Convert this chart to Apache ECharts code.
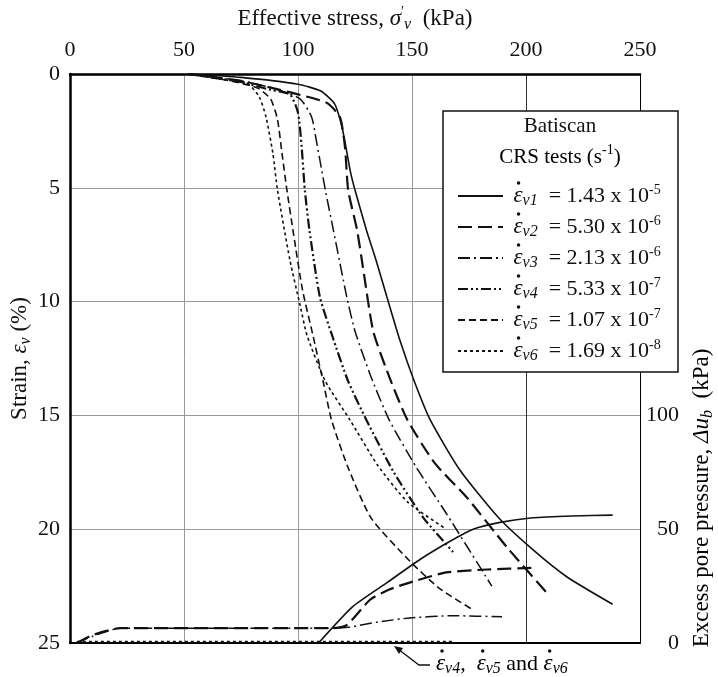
<!DOCTYPE html>
<html>
<head>
<meta charset="utf-8">
<script src="https://cdn.jsdelivr.net/npm/echarts@6/dist/echarts.min.js"></script>
<style>
  html, body { margin: 0; padding: 0; background: #fff; }
  #chart { width: 718px; height: 677px; }
</style>
</head>
<body>
<div id="chart"></div>
<script>
// strain curves: [effective stress (kPa), strain (%)]
const strainV1 = [[52,0],[75,0.15],[100,0.45],[110,0.75],[116,1.3],[119,2.2],[121,3.2],[123,4.3],[125,5.1],[130,6.85],[134.6,8.3],[139,9.8],[144.7,11.7],[151,13.5],[158,15.2],[171,17.4],[188,19.5],[203,20.9],[218,22.1],[238,23.3]]
const strainV2 = [[52,0],[75,0.3],[88,0.6],[101,0.92],[112.7,1.27],[118.4,1.9],[120.6,3.2],[122,5.1],[125.9,6.85],[128.5,8.5],[133,11.3],[140,13.3],[148,15.2],[160,17.1],[174,18.6],[191.7,20.8],[210,22.9]]
const strainV3 = [[52,0],[75,0.3],[90,0.65],[101,1.1],[106,1.9],[108,2.9],[110,4],[112,5.1],[115.5,6.85],[121.4,9.8],[125,11.3],[132,13.3],[140,15.2],[152,17.3],[165,19.3],[185,22.5]]
const strainV4 = [[52,0],[75,0.35],[88,0.7],[96.5,0.9],[100,1.7],[101.6,3.2],[103,5.1],[105,6.85],[109.6,9.8],[115,11.5],[122,13.5],[130,15.2],[142,17.5],[155,19.5],[168,21]]
const strainV5 = [[52,0],[70,0.3],[82,0.6],[88,1.1],[91,2],[93,3.5],[95,5],[98,7],[102,9.5],[106.6,11.5],[111,13.5],[114.7,15.2],[122,17.3],[132,19.5],[149,21.4],[162,22.6],[176,23.5]]
const strainV6 = [[52,0],[68,0.25],[77.6,0.4],[83,1],[86,1.9],[89,3.5],[91,5.1],[96.5,8.2],[101,10.2],[104,11.5],[112,13.5],[122.8,15.2],[135,17.2],[148,18.8],[165,20]]

// excess pore pressure curves: [effective stress (kPa), du (kPa)]
const poreV1 = [[109,0],[124,16],[139,26.5],[153.5,36.7],[166.7,44.7],[176.8,50],[188.6,53],[203,55],[220,55.8],[238,56.2]]
const poreV2 = [[3,0],[10,3.5],[22,6.5],[115,6.5],[121.5,8],[131.6,19],[140,23.5],[150.4,27],[165,31],[183,32.3],[202.6,33]]
const poreV3 = [[3,0],[10,3],[22,6.5],[115,6.5],[122.8,7],[135,9.2],[149,11],[168,12],[189.5,11.5]]
const poreV456 = [[3,0.6],[168,0.6]]

const rateNames = ['v1', 'v2', 'v3', 'v4', 'v5', 'v6']
const rateValues = ['1.43', '5.30', '2.13', '5.33', '1.07', '1.69']
const rateExps = ['-5', '-6', '-6', '-7', '-7', '-8']
const poreLabels = [0, 50, 100]

const FONT = "'Liberation Serif', 'DejaVu Serif', serif"

const rich = {
  n: { fontFamily: FONT, fontSize: 22, lineHeight: 26, color: '#111' },
  t: { fontFamily: FONT, fontSize: 23, lineHeight: 28, color: '#111' },
  e: { fontFamily: FONT, fontSize: 23, fontStyle: 'italic', lineHeight: 26, color: '#111' },
  s: { fontFamily: FONT, fontSize: 16, fontStyle: 'italic', verticalAlign: 'bottom', color: '#111' },
  p: { fontFamily: FONT, fontSize: 14, verticalAlign: 'top', color: '#111' },
}

const lineStyles = [
  { width: 1.6, type: 'solid' },
  { width: 2.2, type: [14, 6] },
  { width: 1.5, type: [12, 4, 2, 4] },
  { width: 2.2, type: [10, 3, 2, 3, 2, 3] },
  { width: 1.6, type: [7, 4] },
  { width: 1.6, type: [3, 3] },
]

const strainData = [strainV1, strainV2, strainV3, strainV4, strainV5, strainV6]

const series = strainData.map((data, i) => ({
  name: rateNames[i],
  type: 'line',
  xAxisIndex: 0,
  yAxisIndex: 0,
  data,
  smooth: 0.2,
  symbol: 'none',
  itemStyle: { color: '#111' },
  lineStyle: { color: '#111', ...lineStyles[i] },
}))

const poreData = [poreV1, poreV2, poreV3]
poreData.forEach((data, i) => {
  series.push({
    name: 'pore ' + rateNames[i],
    type: 'line',
    xAxisIndex: 0,
    yAxisIndex: 1,
    data,
    smooth: 0.2,
    symbol: 'none',
    lineStyle: { color: '#111', ...lineStyles[i] },
  })
})
series.push({
  name: 'pore v4-v6',
  type: 'line',
  xAxisIndex: 0,
  yAxisIndex: 1,
  data: poreV456,
  symbol: 'none',
  lineStyle: { color: '#111', width: 2, type: [3, 3] },
})

// dots over the strain-rate epsilons (measured from the text)
const ctx = document.createElement('canvas').getContext('2d')
function textWidth(str, size, italic) {
  ctx.font = (italic ? 'italic ' : '') + size + 'px ' + FONT
  return ctx.measureText(str).width
}
const epsW = textWidth('ε', 23, true)
const dotMarks = []
function addDot(x, y) {
  dotMarks.push({ type: 'circle', z: 30, shape: { cx: x, cy: y, r: 1.8 }, style: { fill: '#111' } })
}
const legendLeft = 452
const legendTop = 178
const legendTextX = legendLeft + 5 + 45 + 5 + textWidth(' ', 22, false)
rateNames.forEach((_, i) => addDot(legendTextX + epsW / 2 + 1.5, legendTop + 18 + 31 * i - 13))

const noteX = 436
const noteY = 664
let cursor = noteX
const notePieces = [['ε', 23, true], ['v4', 16, true], [',  ', 22, false], ['ε', 23, true], ['v5', 16, true], [' and ', 22, false], ['ε', 23, true], ['v6', 16, true]]
notePieces.forEach(([str, size, italic]) => {
  if (str === 'ε') addDot(cursor + epsW / 2 + 1.5, noteY - 13)
  cursor += textWidth(str, size, italic)
})

const chart = echarts.init(document.getElementById('chart'))

chart.setOption({
  animation: false,
  backgroundColor: '#fff',
  grid: { left: 70, right: 78, top: 74, bottom: 34, show: false, containLabel: false, outerBoundsMode: 'none' },
  xAxis: [
    {
      type: 'value',
      position: 'top',
      min: 0,
      max: 250,
      interval: 50,
      axisLine: { onZero: false, lineStyle: { color: '#000', width: 2.5 } },
      axisTick: { show: false },
      axisLabel: { fontFamily: FONT, fontSize: 22, color: '#111', margin: 13 },
      splitLine: { lineStyle: { color: ['#999', '#999', '#999', '#999', '#333', '#999'], width: 1 } },
      name: '{t|Effective stress, }{e|σ}{p|′}{s|v}{t|  (kPa)}',
      nameLocation: 'middle',
      nameGap: 41,
      nameMoveOverlap: false,
      nameTextStyle: { rich },
    },
    {
      type: 'value',
      position: 'bottom',
      min: 0,
      max: 250,
      axisLine: { onZero: false, lineStyle: { color: '#000', width: 2 } },
      axisTick: { show: false },
      axisLabel: { show: false },
      splitLine: { show: false },
    },
  ],
  yAxis: [
    {
      type: 'value',
      position: 'left',
      inverse: true,
      min: 0,
      max: 25,
      interval: 5,
      axisLine: { onZero: false, lineStyle: { color: '#000', width: 2.5 } },
      axisTick: { show: false },
      axisLabel: { fontFamily: FONT, fontSize: 22, color: '#111', margin: 10 },
      splitLine: { lineStyle: { color: '#999', width: 1 } },
      name: '{t|Strain, }{e|ε}{s|v}{t| (%)}',
      nameLocation: 'middle',
      nameGap: 36,
      nameRotate: 90,
      nameMoveOverlap: false,
      nameTextStyle: { rich },
    },
    {
      type: 'value',
      position: 'right',
      min: 0,
      max: 250,
      interval: 50,
      axisLine: { onZero: false, lineStyle: { color: '#000', width: 1 } },
      axisTick: { show: false },
      axisLabel: {
        fontFamily: FONT,
        fontSize: 22,
        color: '#111',
        margin: 39,
        align: 'right',
        showMaxLabel: false,
        formatter: (v) => (poreLabels.includes(v) ? String(v) : ''),
      },
      splitLine: { show: false },
    },
  ],
  legend: {
    data: rateNames,
    orient: 'vertical',
    left: legendLeft,
    top: legendTop,
    itemWidth: 45,
    itemHeight: 14,
    itemGap: 5,
    selectedMode: false,
    z: 20,
    itemStyle: { opacity: 0 },
    formatter: (name) => {
      const i = rateNames.indexOf(name)
      return '{n| }{e|ε}{s|' + name + '}{n|  = ' + rateValues[i] + ' x 10}{p|' + rateExps[i] + '}'
    },
    textStyle: { rich },
  },
  graphic: [
    {
      type: 'rect',
      z: 10,
      shape: { x: 443, y: 111, width: 235, height: 261 },
      style: { fill: '#fff', stroke: '#111', lineWidth: 1.5 },
    },
    {
      type: 'text',
      z: 11,
      x: 560,
      y: 126,
      style: { text: 'Batiscan', font: '21px ' + FONT, fill: '#111', align: 'center', verticalAlign: 'middle' },
    },
    {
      type: 'text',
      z: 11,
      x: 560,
      y: 157,
      style: {
        text: '{t|CRS tests (s}{p|-1}{t|)}',
        rich: { ...rich, t: { ...rich.t, fontSize: 21 } },
        align: 'center',
        verticalAlign: 'middle',
      },
    },
    {
      type: 'text',
      z: 11,
      x: 702,
      y: 498,
      rotation: Math.PI / 2,
      style: {
        text: '{t|Excess pore pressure, }{e|Δu}{s|b}{t|  (kPa)}',
        rich,
        align: 'center',
        verticalAlign: 'middle',
      },
    },
    {
      type: 'polyline',
      z: 11,
      shape: { points: [[430, 665], [419, 665], [398, 649]] },
      style: { stroke: '#111', lineWidth: 1.3, fill: null },
    },
    {
      type: 'polygon',
      z: 11,
      shape: { points: [[394, 646], [403, 648], [399, 654]] },
      style: { fill: '#111' },
    },
    {
      type: 'text',
      z: 11,
      x: noteX,
      y: noteY,
      style: {
        text: '{e|ε}{s|v4}{n|,  }{e|ε}{s|v5}{n| and }{e|ε}{s|v6}',
        rich,
        align: 'left',
        verticalAlign: 'middle',
      },
    },
    ...dotMarks,
  ],
  series,
})
</script>
</body>
</html>
